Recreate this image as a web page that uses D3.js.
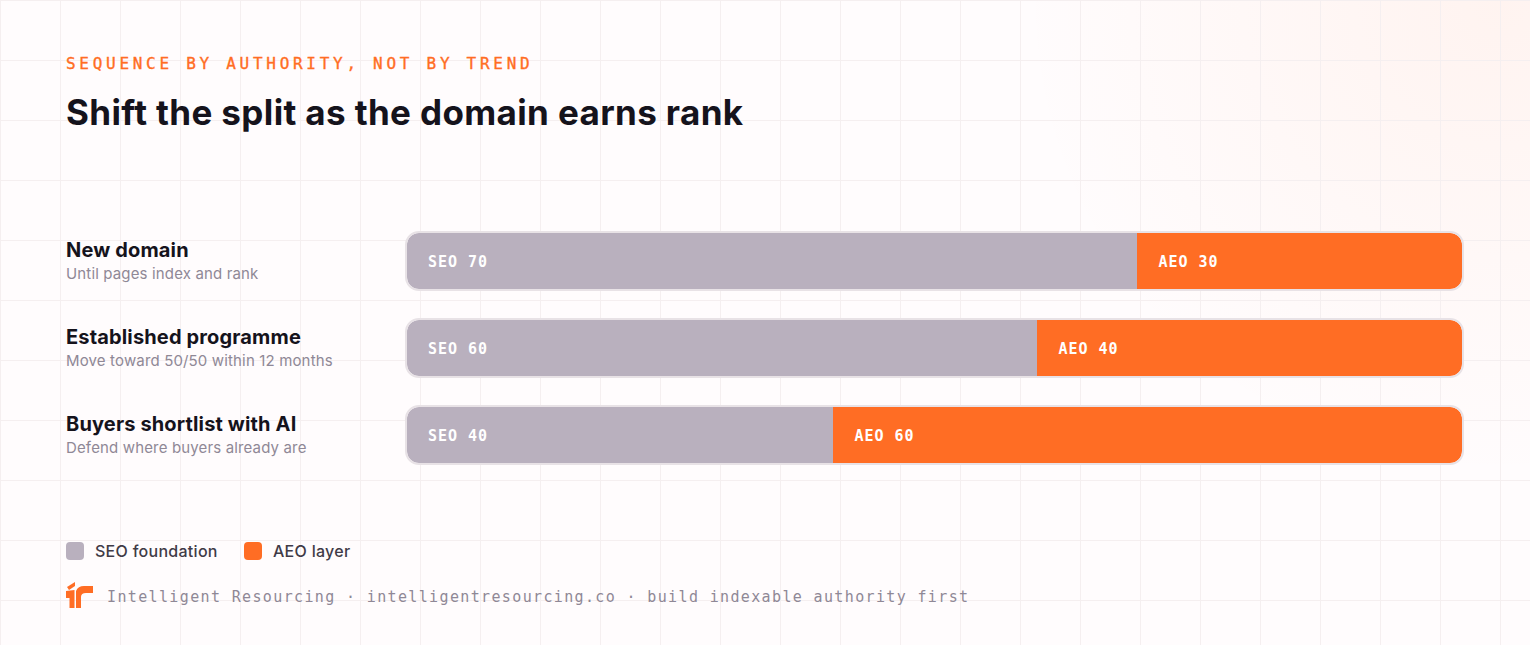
<!DOCTYPE html>
<html>
<head>
<meta charset="utf-8">
<script src="https://cdn.jsdelivr.net/npm/d3@7"></script>
<style>
html, body { margin: 0; padding: 0; background: #fffcfd; overflow: hidden; }
svg { display: block; }
text { font-family: Inter, "Noto Sans", sans-serif; }
.mono { font-family: "DejaVu Sans Mono", monospace; }
</style>
</head>
<body>
<script>
var categories = ["New domain", "Established programme", "Buyers shortlist with AI"];
var subtitles = ["Until pages index and rank", "Move toward 50/50 within 12 months", "Defend where buyers already are"];
var seoValues = [70, 60, 40];
var aeoValues = [30, 40, 60];
var legendLabels = ["SEO foundation", "AEO layer"];

var width = 1530, height = 645;
var seoColor = "#b9b0be", aeoColor = "#ff6d24";

var svg = d3.select("body").append("svg").attr("width", width).attr("height", height);
var defs = svg.append("defs");

var glow = defs.append("radialGradient").attr("id", "glow")
  .attr("gradientUnits", "userSpaceOnUse")
  .attr("cx", 1500).attr("cy", 0).attr("r", 480);
glow.append("stop").attr("offset", "0").attr("stop-color", "#ff6d24").attr("stop-opacity", 0.06);
glow.append("stop").attr("offset", "1").attr("stop-color", "#ff6d24").attr("stop-opacity", 0);

svg.append("rect").attr("width", width).attr("height", height).attr("fill", "#fffcfd");
svg.append("rect").attr("width", width).attr("height", height).attr("fill", "url(#glow)");

// background grid, 60px
svg.append("g").selectAll("rect").data(d3.range(0, width, 60)).enter().append("rect")
  .attr("x", function(d) { return d; }).attr("y", 0).attr("width", 1).attr("height", height).attr("fill", "#f5eff0");
svg.append("g").selectAll("rect").data(d3.range(0, height, 60)).enter().append("rect")
  .attr("x", 0).attr("y", function(d) { return d; }).attr("width", width).attr("height", 1).attr("fill", "#f5eff0");

// header
svg.append("text").attr("class", "mono").attr("x", 66).attr("y", 69)
  .attr("font-size", 16).attr("letter-spacing", 3.72).attr("fill", aeoColor)
  .attr("stroke", aeoColor).attr("stroke-width", 0.35)
  .text("SEQUENCE BY AUTHORITY, NOT BY TREND");
svg.append("text").attr("x", 66).attr("y", 125)
  .attr("font-size", 35).attr("font-weight", 700).attr("fill", "#15131c").attr("letter-spacing", 0.37)
  .text("Shift the split as the domain earns rank");

// the split is not quite proportional in the source, so the scale goes through the read boundaries
var barLeft = 407, barRight = 1462;
var x = d3.scaleLinear().domain([0, 40, 60, 70, 100]).range([barLeft, 833, 1037, 1137, barRight]);
var y = d3.scaleBand().domain(categories).range([233, 463]).paddingInner(31 / 87).paddingOuter(0);

var rows = svg.append("g").selectAll("g").data(categories).enter().append("g")
  .attr("transform", function(d) { return "translate(0," + y(d) + ")"; });

rows.append("text").attr("x", 66).attr("y", 24)
  .attr("font-size", 20).attr("font-weight", 700).attr("fill", "#15131c").attr("letter-spacing", 0.15)
  .text(function(d) { return d; });
rows.append("text").attr("x", 66).attr("y", 46)
  .attr("font-size", 15).attr("fill", "#8f8896").attr("letter-spacing", 0.15)
  .text(function(d, i) { return subtitles[i]; });

rows.each(function(d, i) {
  var g = d3.select(this);
  var h = y.bandwidth();
  defs.append("clipPath").attr("id", "clip" + i).append("rect")
    .attr("x", barLeft).attr("y", 0).attr("width", barRight - barLeft).attr("height", h).attr("rx", 12);
  var bars = g.append("g").attr("clip-path", "url(#clip" + i + ")");
  bars.append("rect").attr("x", x(0)).attr("y", 0)
    .attr("width", x(seoValues[i]) - x(0)).attr("height", h).attr("fill", seoColor);
  bars.append("rect").attr("x", x(seoValues[i])).attr("y", 0)
    .attr("width", x(100) - x(seoValues[i])).attr("height", h).attr("fill", aeoColor);
  g.append("rect").attr("x", barLeft - 1).attr("y", -1)
    .attr("width", barRight - barLeft + 2).attr("height", h + 2).attr("rx", 13)
    .attr("fill", "none").attr("stroke", "#e8e2e6").attr("stroke-width", 2);
  g.append("text").attr("class", "mono").attr("x", x(0) + 21).attr("y", h / 2 + 6)
    .attr("font-size", 15).attr("font-weight", 700).attr("fill", "#fff").attr("letter-spacing", 0.95)
    .text("SEO " + seoValues[i]);
  g.append("text").attr("class", "mono").attr("x", x(seoValues[i]) + 21.5).attr("y", h / 2 + 6)
    .attr("font-size", 15).attr("font-weight", 700).attr("fill", "#fff").attr("letter-spacing", 0.95)
    .text("AEO " + aeoValues[i]);
});

// legend
var legendX = [66, 244];
var legend = svg.append("g").selectAll("g").data(legendLabels).enter().append("g")
  .attr("transform", function(d, i) { return "translate(" + legendX[i] + ",542)"; });
legend.append("rect").attr("width", 18).attr("height", 18).attr("rx", 4)
  .attr("fill", function(d, i) { return i === 0 ? seoColor : aeoColor; });
legend.append("text").attr("x", 29).attr("y", 15)
  .attr("font-size", 16).attr("font-weight", 500).attr("fill", "#3f3b47").attr("letter-spacing", 0.28)
  .text(function(d) { return d; });

// footer mark and line
var mark = svg.append("g").attr("fill", aeoColor);
mark.append("path").attr("d", "M67 587 L75 582 L75 586 L69 590 Z");
mark.append("path").attr("d", "M66 591 L74.5 590 L74.5 608 L69.5 608 L69.5 598 L66 598 Z");
mark.append("path").attr("d", "M76 591 Q78 586 84 586 L93 586 L93 593 L86 593 Q81 593 81 597 L81 608 L76 608 Z");
svg.append("text").attr("class", "mono").attr("x", 107).attr("y", 602)
  .attr("font-size", 15).attr("letter-spacing", 1.36).attr("fill", "#8f8896")
  .text("Intelligent Resourcing \u00b7 intelligentresourcing.co \u00b7 build indexable authority first");
</script>
</body>
</html>
